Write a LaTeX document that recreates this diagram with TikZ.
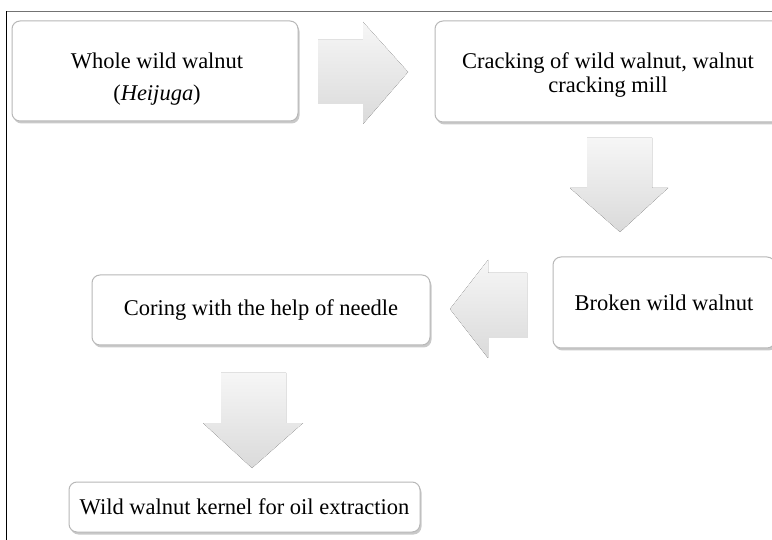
\documentclass[tikz,border=0pt]{standalone}
\usepackage{fontspec}
\setmainfont{Liberation Serif}
\usetikzlibrary{shadows}
\definecolor{boxline}{HTML}{B8B8B8}
\definecolor{arrtop}{HTML}{F6F6F6}
\definecolor{arrbot}{HTML}{DADADA}
\tikzset{
  x=1pt,y=-1pt,
  stepbox/.style={draw=boxline,line width=1pt,rounded corners=8pt,fill=white,
    font=\fontsize{22.5}{24}\selectfont,align=center,inner sep=0pt,
    drop shadow={shadow xshift=1.5pt,shadow yshift=-2.5pt,opacity=0.35,fill=black!60}},
  boxtext/.style={font=\fontsize{22.5}{24}\selectfont,align=center,inner sep=0pt},
  bigarrow/.style={top color=arrtop,bottom color=arrbot,draw=none},
}
\begin{document}
\begin{tikzpicture}
\useasboundingbox (0,0) rectangle (772,540);
\fill[white] (0,0) rectangle (772,540);
% frame
\draw[line width=1pt,black!55] (6,11.5) -- (772,11.5);
\draw[line width=1pt,black] (6,11.5) -- (6,540);
% boxes
\node[stepbox,minimum width=286pt,minimum height=100pt] (b1) at (155,71) {};
\node[boxtext] (t1) at (157,79) {Whole wild walnut\\[8pt](\textit{Heijuga})};
\node[stepbox,minimum width=346pt,minimum height=101pt] (b2) at (608,71.5) {};
\node[boxtext] (t2) at (608,75) {Cracking of wild walnut, walnut\\cracking mill};
\node[stepbox,minimum width=222pt,minimum height=91pt] (b3) at (664,302.5) {Broken wild walnut};
\node[stepbox,minimum width=338pt,minimum height=70pt] (b4) at (261,310) {Coring with the help of needle};
\node[stepbox,minimum width=351pt,minimum height=50pt] (b5) at (244.5,507) {Wild walnut kernel for oil extraction};
% arrows
\fill[bigarrow] (318,40) -- (363,40) -- (363,22) -- (408,72) -- (363,124) -- (363,104) -- (318,104) -- cycle;
\fill[bigarrow] (587,138) -- (652,138) -- (652,188) -- (668,188) -- (620,232) -- (570,188) -- (587,188) -- cycle;
\fill[bigarrow] (527,273) -- (488,273) -- (488,260) -- (450,309) -- (488,358) -- (488,338) -- (527,338) -- cycle;
\fill[bigarrow] (221,373) -- (286,373) -- (286,423) -- (303,423) -- (252,468) -- (203,423) -- (221,423) -- cycle;
\end{tikzpicture}
\end{document}
